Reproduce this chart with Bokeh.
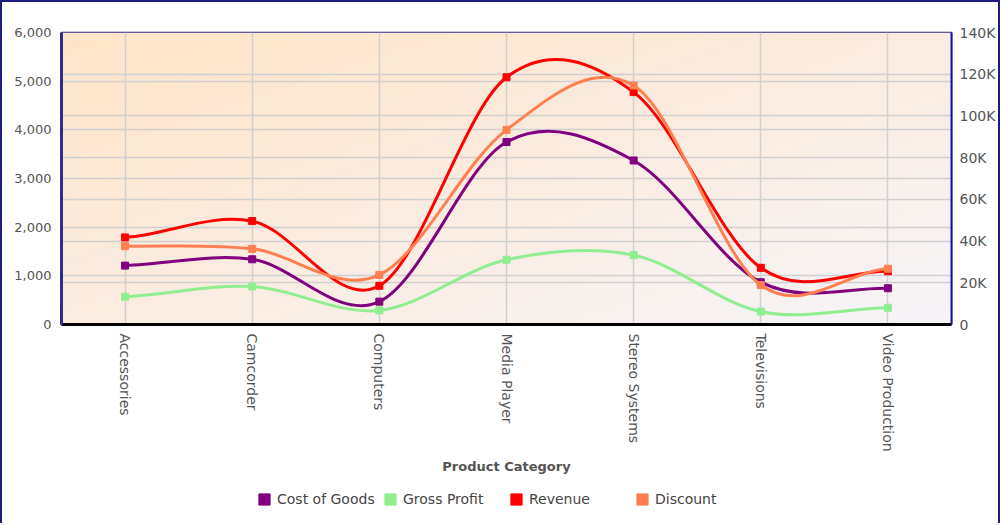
import math
import numpy as np
from bokeh.plotting import figure
from bokeh.layouts import column
from bokeh.models import (ColumnDataSource, Range1d, LinearAxis, FixedTicker,
                          NumeralTickFormatter, Legend, LegendItem, Grid)
from bokeh.embed import file_html
from bokeh.resources import INLINE

# ---------------- data ----------------
categories = ["Accessories", "Camcorder", "Computers", "Media Player",
              "Stereo Systems", "Televisions", "Video Production"]
cost_of_goods = [1210, 1340, 470, 3750, 3370, 870, 745]
gross_profit = [570, 780, 290, 1330, 1425, 265, 345]
revenue = [1790, 2125, 795, 5080, 4775, 1165, 1095]
discount = [1610, 1555, 1020, 4000, 4910, 810, 1145]
series_names = ["Cost of Goods", "Gross Profit", "Revenue", "Discount"]
series_colors = ["#800080", "#90EE90", "#FF0000", "#FF7F50"]
left_ticks = [0, 1000, 2000, 3000, 4000, 5000, 6000]
right_ticks = [0, 20000, 40000, 60000, 80000, 100000, 120000, 140000]
right_tick_labels = ["0", "20K", "40K", "60K", "80K", "100K", "120K", "140K"]
axis_title = "Product Category"

FONT = "DejaVu Sans"
TXT = "#555555"

p = figure(frame_width=890, frame_height=292,
           x_range=Range1d(-0.5, len(categories) - 0.5),
           y_range=Range1d(left_ticks[0], left_ticks[-1]),
           output_backend="svg", toolbar_location=None,
           min_border_left=59, min_border_right=47, min_border_top=30,
           min_border_bottom=160)
p.border_fill_color = "white"
p.outline_line_color = "#2e2e88"
p.outline_line_width = 1.5

# gradient background of the plot area
nx, ny = 356, 117
u = np.linspace(0, 1, nx)[None, :]
v = np.linspace(0, 1, ny)[:, None]
s = ((1 - u) + v) / 2.0
tl = np.array([255, 228, 200], float)
br = np.array([246, 244, 248], float)
rgb = br + s[..., None] * (tl - br)
img = np.empty((ny, nx), dtype=np.uint32)
view = img.view(dtype=np.uint8).reshape((ny, nx, 4))
view[..., :3] = np.round(rgb).astype(np.uint8)
view[..., 3] = 255
p.image_rgba(image=[img], x=-0.5, y=left_ticks[0], dw=len(categories),
             dh=left_ticks[-1] - left_ticks[0], level="image")

# axes
xt = FixedTicker(ticks=list(range(len(categories))))
p.xaxis.ticker = xt
p.xgrid.ticker = xt
p.xaxis.major_label_overrides = {i: c for i, c in enumerate(categories)}
p.xaxis.major_label_orientation = -math.pi / 2
p.xaxis.major_label_text_font = FONT
p.xaxis.major_label_text_font_size = "14px"
p.xaxis.major_label_text_color = TXT
p.xaxis.major_label_standoff = 3
p.xaxis.axis_label = axis_title
p.xaxis.axis_label_text_font = FONT
p.xaxis.axis_label_text_font_size = "13px"
p.xaxis.axis_label_text_font_style = "bold"
p.xaxis.axis_label_text_color = TXT
p.xaxis.axis_label_standoff = 4
p.xaxis.axis_line_color = "black"
p.xaxis.axis_line_width = 3
p.xaxis.major_tick_line_color = None
p.xaxis.minor_tick_line_color = None

yt = FixedTicker(ticks=left_ticks)
p.yaxis.ticker = yt
p.ygrid.ticker = yt
p.yaxis.formatter = NumeralTickFormatter(format="0,0")
p.yaxis.major_label_text_font = FONT
p.yaxis.major_label_text_font_size = "13px"
p.yaxis.major_label_text_color = TXT
p.yaxis.major_label_standoff = 4
p.yaxis.axis_line_color = "#2e2e88"
p.yaxis.axis_line_width = 3
p.yaxis.major_tick_line_color = None
p.yaxis.minor_tick_line_color = None

p.extra_y_ranges = {"right": Range1d(right_ticks[0], right_ticks[-1])}
rt = FixedTicker(ticks=right_ticks)
ra = LinearAxis(y_range_name="right", ticker=rt)
ra.major_label_overrides = {t: l for t, l in zip(right_ticks, right_tick_labels)}
ra.major_label_text_font = FONT
ra.major_label_text_font_size = "14px"
ra.major_label_text_color = TXT
ra.major_label_standoff = 2
ra.axis_line_color = "#1414a0"
ra.axis_line_width = 2
ra.major_tick_line_color = None
ra.minor_tick_line_color = None
p.add_layout(ra, "right")

for g in (p.xgrid[0], p.ygrid[0]):
    g.grid_line_color = "#d0d0d0"
    g.grid_line_width = 1.5
rg = Grid(dimension=1, ticker=rt, y_range_name="right",
          grid_line_color="#d0d0d0", grid_line_width=1.5)
p.add_layout(rg)


def spline_segments(vals):
    y = np.array(vals, dtype=float)
    n = len(y)
    x = np.arange(n, dtype=float)
    m = np.empty(n)
    m[1:-1] = (y[2:] - y[:-2]) / 2.0
    m[0] = (y[1] - y[0]) / 2.0
    m[-1] = (y[-1] - y[-2]) / 2.0
    return dict(x0=x[:-1], y0=y[:-1], x1=x[1:], y1=y[1:],
                cx0=x[:-1] + 1 / 3, cy0=y[:-1] + m[:-1] / 3,
                cx1=x[1:] - 1 / 3, cy1=y[1:] - m[1:] / 3)


all_series = [cost_of_goods, gross_profit, revenue, discount]
for vals, name, col in zip(all_series, series_names, series_colors):
    src = ColumnDataSource(spline_segments(vals))
    p.bezier(x0="x0", y0="y0", x1="x1", y1="y1", cx0="cx0", cy0="cy0",
             cx1="cx1", cy1="cy1", source=src, line_color=col, line_width=3)
    p.scatter(x=list(range(len(vals))), y=vals, marker="square", size=7,
              fill_color=col, line_color=col)

# ---------------- legend strip ----------------
leg_fig = figure(frame_width=996, frame_height=39,
                 x_range=Range1d(0, 1), y_range=Range1d(0, 1),
                 x_axis_location=None, y_axis_location=None,
                 output_backend="svg", toolbar_location=None,
                 min_border_left=0, min_border_right=0, min_border_top=0,
                 min_border_bottom=0)
leg_fig.outline_line_color = None
leg_fig.background_fill_color = "white"
leg_fig.border_fill_color = "white"
leg_fig.xgrid.visible = False
leg_fig.ygrid.visible = False

nan = float("nan")
items = []
for name, col in zip(series_names, series_colors):
    proxy = leg_fig.quad(left=[nan], right=[nan], top=[nan], bottom=[nan],
                         fill_color=col, line_color=col)
    items.append(LegendItem(label=name, renderers=[proxy]))

leg = Legend(items=items, location=(255, 16), orientation="horizontal",
             padding=0, margin=0, spacing=0,
             glyph_width=14, glyph_height=14, label_height=14,
             label_width=106, label_standoff=6, label_text_font=FONT,
             label_text_font_size="14px", label_text_color="#444444",
             border_line_color=None, background_fill_alpha=0)
leg_fig.add_layout(leg)

layout = column(p, leg_fig, spacing=0,
                styles={"border-top": "2px solid #1b1b80",
                        "border-left": "2px solid #1b1b80",
                        "border-right": "2px solid #1b1b80"})

open("out.html", "w").write(file_html(layout, INLINE))
